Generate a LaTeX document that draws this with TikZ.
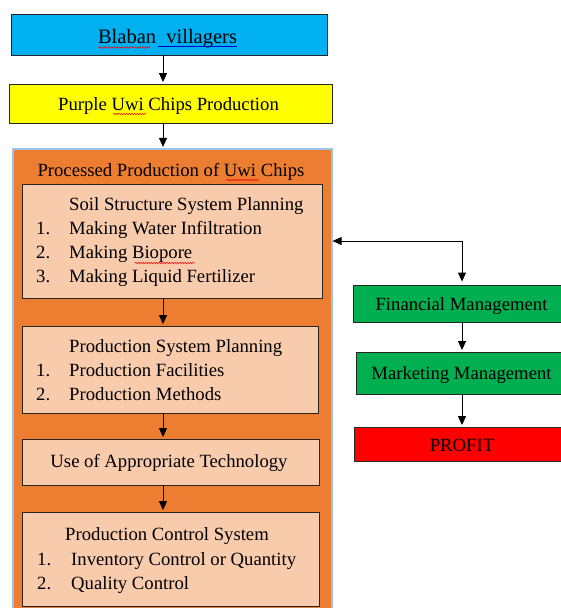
\documentclass[tikz,border=0pt]{standalone}
\usepackage{fontspec}
\setmainfont{Liberation Serif}
\usetikzlibrary{arrows.meta,decorations.pathmorphing}
\definecolor{cblue}{HTML}{00B0F0}
\definecolor{cyellow}{HTML}{FFFF00}
\definecolor{corange}{HTML}{ED7D31}
\definecolor{cpeach}{HTML}{F8CBAD}
\definecolor{cgreen}{HTML}{00B050}
\definecolor{cred}{HTML}{FF0000}
\definecolor{cborder}{HTML}{9DC3E6}
\definecolor{cline}{HTML}{262626}
\begin{document}
\begin{tikzpicture}[x=1pt,y=-1pt,
  font=\fontsize{18.7}{24}\selectfont,
  box/.style={draw=cline, line width=0.9pt, inner sep=0pt},
  txt/.style={inner sep=0pt, anchor=base west},
  ctxt/.style={inner sep=0pt, anchor=base},
  arr/.style={line width=0.9pt, draw=black, -{Triangle[length=9pt,width=8pt]}, shorten >=1.5pt},
  dblarr/.style={line width=0.9pt, draw=black, {Triangle[length=9pt,width=8pt]}-{Triangle[length=9pt,width=8pt]}, shorten >=3pt},
  spell/.style={red, line width=0.5pt, decorate, decoration={snake, amplitude=0.7pt, segment length=2.6pt}},
  gram/.style={blue!80!black, line width=0.6pt}]
\useasboundingbox (0,0) rectangle (561,608);
\clip (0,0) rectangle (561,608);
% boxes
\node[box, fill=cblue, minimum width=316pt, minimum height=41pt] (blue) at (169,34.5) {};
\node[box, fill=cyellow, minimum width=323pt, minimum height=39pt] (yellow) at (170.5,103.5) {};
\node[draw=cborder, line width=1.2pt, fill=corange, inner sep=0pt, minimum width=319pt, minimum height=471pt] (orange) at (172.5,384.5) {};
\node[box, fill=cpeach, minimum width=300pt, minimum height=114pt] (soil) at (172,241) {};
\node[box, fill=cpeach, minimum width=296pt, minimum height=87pt] (psp) at (170,369.5) {};
\node[box, fill=cpeach, minimum width=297pt, minimum height=46pt] (tech) at (170.5,462) {};
\node[box, fill=cpeach, minimum width=297pt, minimum height=94pt] (ctrl) at (170.5,559) {};
\node[box, fill=cgreen, minimum width=218pt, minimum height=37pt] (fin) at (462,303.5) {};
\node[box, fill=cgreen, minimum width=212pt, minimum height=42pt] (mkt) at (462,373) {};
\node[box, fill=cred, minimum width=216pt, minimum height=34pt] (profit) at (462,444) {};
% texts
\node[ctxt, font=\fontsize{20.5}{24}\selectfont] (tblue) at (167.5,43) {Blaban\ \ villagers};
\node[ctxt] (tyellow) at (168.5,110) {Purple Uwi Chips Production};
\node[ctxt] (ttitle) at (171,176) {Processed Production of Uwi Chips};
\node[txt] (s0) at (69,210) {Soil Structure System Planning};
\node[txt] (s1n) at (36,234) {1.};
\node[txt] (s1) at (69,234) {Making Water Infiltration};
\node[txt] (s2n) at (36,258) {2.};
\node[txt] (s2) at (69,258) {Making Biopore};
\node[txt] (s3n) at (36,282) {3.};
\node[txt] (s3) at (69,282) {Making Liquid Fertilizer};
\node[txt] (p0) at (69,352) {Production System Planning};
\node[txt] (p1n) at (36,376) {1.};
\node[txt] (p1) at (69,376) {Production Facilities};
\node[txt] (p2n) at (36,400) {2.};
\node[txt] (p2) at (69,400) {Production Methods};
\node[ctxt] (ttech) at (169,467) {Use of Appropriate Technology};
\node[txt] (c0) at (65,540) {Production Control System};
\node[txt] (c1n) at (37,565) {1.};
\node[txt] (c1) at (71,565) {Inventory Control or Quantity};
\node[txt] (c2n) at (37,589) {2.};
\node[txt] (c2) at (71,589) {Quality Control};
\node[ctxt] (tfin) at (461.5,310) {Financial Management};
\node[ctxt] (tmkt) at (461.5,379) {Marketing Management};
\node[ctxt] (tprofit) at (462,451) {PROFIT};
% proofing marks
\draw[spell] (98,47.5) -- (150,47.5);
\draw[gram] (158,46.5) -- (237,46.5);
\draw[spell] (113,114) -- (146,114);
\draw[spell] (226,180) -- (259,180);
\draw[spell] (135,263) -- (195,263);
% connectors
\coordinate (ax) at (163,0);
\draw[arr] (blue.south -| ax) -- (yellow.north -| ax);
\draw[arr] (yellow.south -| ax) -- (orange.north -| ax);
\draw[arr] (soil.south -| ax) -- (psp.north -| ax);
\draw[arr] (psp.south -| ax) -- (tech.north -| ax);
\draw[arr] (tech.south -| ax) -- (ctrl.north -| ax);
\draw[arr] (fin.south) -- (mkt.north);
\draw[arr] (mkt.south) -- (profit.north);
\draw[dblarr] (orange.east |- soil.east) -| (fin.north);
\end{tikzpicture}
\end{document}
